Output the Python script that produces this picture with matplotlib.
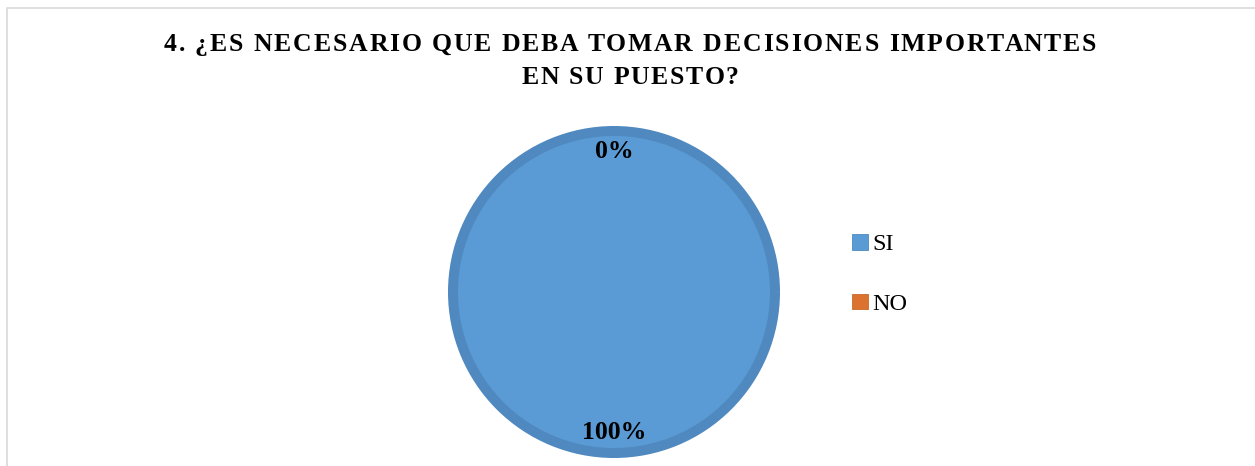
import matplotlib
matplotlib.use("Agg")
import matplotlib.pyplot as plt
from matplotlib.patches import Patch, Rectangle
from matplotlib.font_manager import FontProperties

categories = ["SI", "NO"]
values = [100, 0]
colors = ["#5b9bd5", "#dc722f"]
edge_colors = ["#4f89c0", "#c9692c"]
title_lines = ["4. ¿ES NECESARIO QUE DEBA TOMAR DECISIONES IMPORTANTES",
               "EN SU PUESTO?"]

W, H = 1255, 466
fig = plt.figure(figsize=(W / 100, H / 100), dpi=100)
fig.patch.set_facecolor("white")
plt.rcParams["font.family"] = ["Liberation Serif", "DejaVu Serif"]
renderer = fig.canvas.get_renderer()


def tracked_text(s, x_px, y_px, size, tracking_px, weight="bold"):
    """Draw text centred at x_px with extra spacing between characters."""
    fp = FontProperties(family=["Liberation Serif", "DejaVu Serif"],
                        size=size, weight=weight)

    def width(t):
        return renderer.get_text_width_height_descent(t, fp, ismath=False)[0]

    ref = width("H")
    total = width(s) + tracking_px * (len(s) - 1)
    x0 = x_px - total / 2
    for i, ch in enumerate(s):
        if ch == " ":
            continue
        off = width(s[:i] + "H") - ref if i else 0.0
        fig.text((x0 + off + i * tracking_px) / W, (H - y_px) / H, ch,
                 fontproperties=fp, ha="left", va="baseline")


# outer chart frame (top and left edges visible)
fig.add_artist(Rectangle((7 / W, -0.2), 1.3, (H - 8) / H + 0.2,
                         transform=fig.transFigure, fill=False,
                         edgecolor="#d9d9d9", linewidth=1.2))

cx, cy, half = 614, H - 292, 170
ax = fig.add_axes([(cx - half) / W, (cy - half) / H, 2 * half / W, 2 * half / H])
ring_px = 10
radius = (166 - ring_px / 2) / half

wedges, texts, autotexts = ax.pie(
    values, colors=colors, startangle=90, counterclock=False,
    radius=radius, autopct="%1.0f%%", pctdistance=0.87,
    wedgeprops=dict(edgecolor=edge_colors[0], linewidth=ring_px * 0.72),
    textprops=dict(fontsize=18.5, fontweight="bold", color="black"))
wedges[1].set_linewidth(0)
ax.set_xlim(-1, 1)
ax.set_ylim(-1, 1)
ax.set_aspect("equal")
ax.axis("off")

tracked_text(title_lines[0], 630, 51, 18.5, 1.85)
tracked_text(title_lines[1], 630, 83.5, 18.5, 1.6)

handles = [Patch(facecolor=c, edgecolor=e, linewidth=0.6)
           for c, e in zip(colors, edge_colors)]
fig.legend(handles, categories, loc="center left",
           bbox_to_anchor=(852.5 / W, (H - 274.5) / H), frameon=False,
           fontsize=17.5, handlelength=0.62, handleheight=0.62,
           handletextpad=0.2, labelspacing=1.57, borderpad=0,
           borderaxespad=0)

fig.savefig("out.png", dpi=100, facecolor="white")
